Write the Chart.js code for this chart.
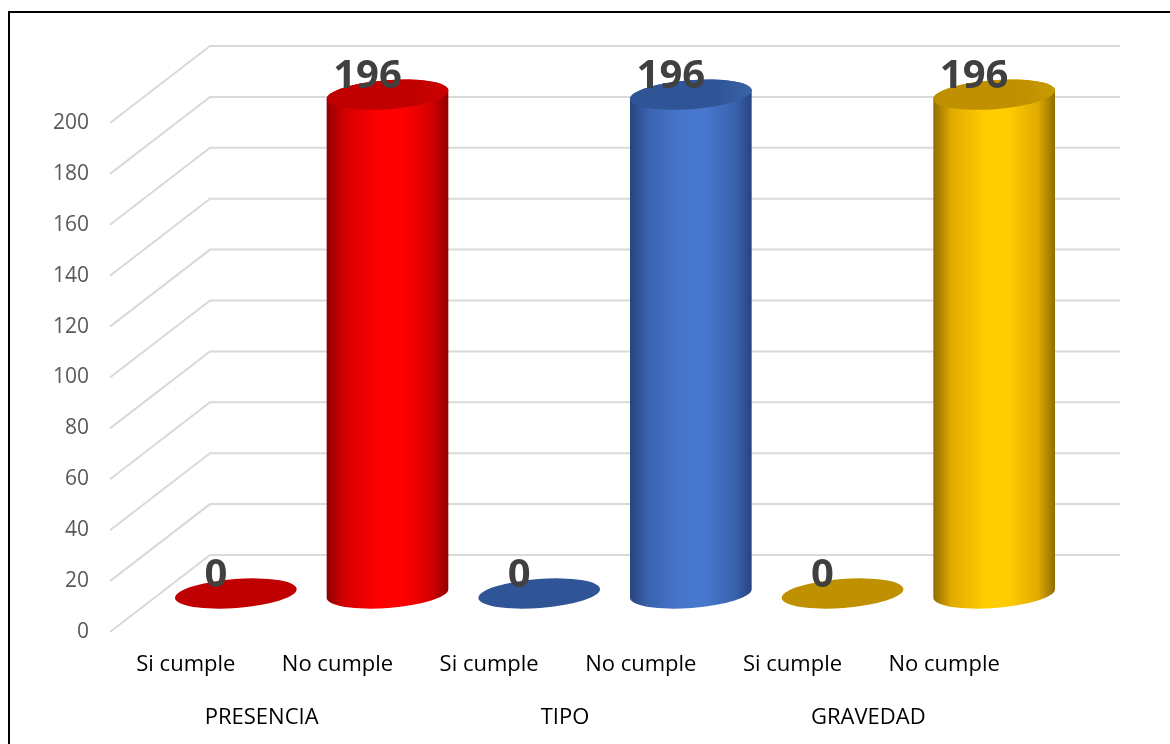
<!DOCTYPE html>
<html>
<head>
<meta charset="utf-8">
<script src="https://cdn.jsdelivr.net/npm/chart.js@4/dist/chart.umd.min.js"></script>
<style>
  body { margin: 0; background: #fff; overflow: hidden; }
  #wrap { position: relative; width: 1170px; height: 744px; overflow: hidden; }
  #frame { position: absolute; left: 8px; top: 11px; width: 1300px; height: 900px; border: 2px solid #000; }
  canvas { position: absolute; left: 0; top: 0; }
</style>
</head>
<body>
<div id="wrap">
  <div id="frame"></div>
  <canvas id="chart" width="1170" height="744"></canvas>
</div>
<script>
// Data
const categories = ["Si cumple", "No cumple", "Si cumple", "No cumple", "Si cumple", "No cumple"];
const groups = ["PRESENCIA", "TIPO", "GRAVEDAD"];
const values = [0, 196, 0, 196, 0, 196];

// Cylinder colours (edge / side / centre / top)
const palettes = [
  { edge: "#900000", mid: "#ff0000", side: "#d40000", top: "#c00000", topHi: "#cc0000" },
  { edge: "#900000", mid: "#ff0000", side: "#d40000", top: "#c00000", topHi: "#cc0000" },
  { edge: "#27447e", mid: "#4677cc", side: "#3a63ae", top: "#2f5597", topHi: "#3a62a8" },
  { edge: "#27447e", mid: "#4677cc", side: "#3a63ae", top: "#2f5597", topHi: "#3a62a8" },
  { edge: "#8f6c00", mid: "#ffcc00", side: "#e0aa00", top: "#bf9000", topHi: "#c99a00" },
  { edge: "#8f6c00", mid: "#ffcc00", side: "#e0aa00", top: "#bf9000", topHi: "#c99a00" },
];

// 3D depth of the plot (front plane -> back wall)
const DEPTH_X = 100, DEPTH_Y = -77;
const RX = 61, RY = 14.5, ROT = -0.075;

function drawCylinder(ctx, cx, yTop, yBot, pal) {
  const c = Math.cos(ROT), s = Math.sin(ROT);
  const lx = -RX * c, ly = -RX * s;

  if (yBot - yTop < 1) {
    ctx.beginPath();
    ctx.ellipse(cx, yBot, RX, RY, ROT, 0, Math.PI * 2);
    ctx.fillStyle = pal.top;
    ctx.fill();
    return;
  }

  const g = ctx.createLinearGradient(cx - RX, 0, cx + RX, 0);
  g.addColorStop(0, pal.edge);
  g.addColorStop(0.15, pal.side);
  g.addColorStop(0.42, pal.mid);
  g.addColorStop(0.62, pal.mid);
  g.addColorStop(0.86, pal.side);
  g.addColorStop(1, pal.edge);

  ctx.beginPath();
  ctx.moveTo(cx + lx, yTop + ly);
  ctx.lineTo(cx + lx, yBot + ly);
  ctx.ellipse(cx, yBot, RX, RY, ROT, Math.PI, 0, true);
  ctx.lineTo(cx - lx, yTop - ly);
  ctx.ellipse(cx, yTop, RX, RY, ROT, 0, Math.PI, true);
  ctx.closePath();
  ctx.fillStyle = g;
  ctx.fill();

  const tg = ctx.createLinearGradient(cx - RX, 0, cx + RX, 0);
  tg.addColorStop(0, pal.top);
  tg.addColorStop(0.7, pal.top);
  tg.addColorStop(1, pal.topHi);
  ctx.beginPath();
  ctx.ellipse(cx, yTop, RX, RY, ROT, 0, Math.PI * 2);
  ctx.fillStyle = tg;
  ctx.fill();
}

const plot3d = {
  id: "plot3d",
  beforeDatasetsDraw(chart) {
    const { ctx, chartArea: a, scales: { y } } = chart;
    ctx.save();
    ctx.strokeStyle = "#d9d9d9";
    ctx.lineWidth = 2;
    y.ticks.forEach(t => {
      const py = y.getPixelForValue(t.value);
      ctx.beginPath();
      ctx.moveTo(a.left, py);
      ctx.lineTo(a.left + DEPTH_X, py + DEPTH_Y);
      ctx.lineTo(a.right + DEPTH_X, py + DEPTH_Y);
      ctx.stroke();
    });
    ctx.restore();
  },
  afterDatasetsDraw(chart) {
    const { ctx } = chart;
    const meta = chart.getDatasetMeta(0);
    ctx.save();
    meta.data.forEach((bar, i) => {
      const cx = bar.x + DEPTH_X / 2;
      const yTop = bar.y + DEPTH_Y / 2;
      const yBot = bar.base + DEPTH_Y / 2;
      drawCylinder(ctx, cx, yTop, yBot, palettes[i]);
    });
    // data labels
    ctx.font = 'bold 40px "Open Sans"';
    ctx.fillStyle = "#404040";
    ctx.textAlign = "center";
    ctx.textBaseline = "middle";
    meta.data.forEach((bar, i) => {
      const cx = bar.x + DEPTH_X / 2;
      const yTop = bar.y + DEPTH_Y / 2;
      ctx.fillText(String(values[i]), cx - 20, yTop - 18);
    });
    ctx.restore();
  }
};

new Chart(document.getElementById("chart"), {
  type: "bar",
  data: {
    labels: categories,
    datasets: [{
      data: values,
      backgroundColor: "rgba(0,0,0,0)",
      borderWidth: 0
    }]
  },
  options: {
    responsive: false,
    animation: false,
    devicePixelRatio: 1,
    layout: { padding: { left: 0, top: 123, right: 150, bottom: 6 } },
    plugins: { legend: { display: false }, tooltip: { enabled: false } },
    scales: {
      y: {
        min: 0, max: 200,
        ticks: { stepSize: 20, color: "#595959", padding: 21, font: { family: "Open Sans", size: 21 } },
        grid: { display: false, drawTicks: false },
        border: { display: false },
        afterFit(scale) { scale.width = 110; }
      },
      x: {
        ticks: { color: "#000", padding: 20, font: { family: "Open Sans", size: 22 } },
        grid: { display: false, drawTicks: false },
        border: { display: false },
        afterFit(scale) { scale.height = 46; }
      },
      x2: {
        type: "category",
        labels: groups,
        position: "bottom",
        offset: true,
        ticks: { color: "#000", padding: 27, font: { family: "Open Sans", size: 22 } },
        grid: { display: false, drawTicks: false },
        border: { display: false },
        afterFit(scale) { scale.height = 60; }
      }
    }
  },
  plugins: [plot3d]
});
</script>
</body>
</html>
